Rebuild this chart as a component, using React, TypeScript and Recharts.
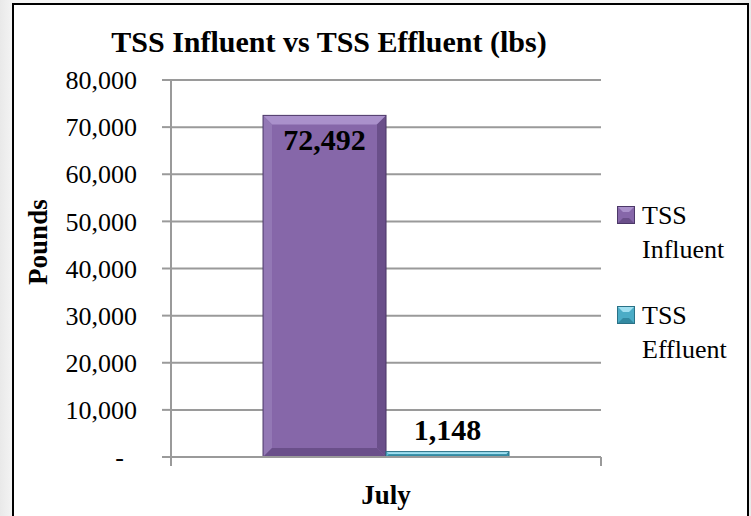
import React from 'react';
import { BarChart, Bar, XAxis, YAxis, CartesianGrid, Legend, LabelList } from 'recharts';

const months = ['July'];
const tssInfluent = [72492];
const tssEffluent = [1148];
const yTicks = [0, 10000, 20000, 30000, 40000, 50000, 60000, 70000, 80000];
const seriesNames = ['TSS Influent', 'TSS Effluent'];

const data = months.map((m, i) => ({
  month: m,
  influent: tssInfluent[i],
  effluent: tssEffluent[i],
}));

const FONT = '"Liberation Serif", "Times New Roman", serif';
const GRID = '#9a9a9a';

type Tone = { main: string; light: string; side: string; dark: string; edge: string };

const PURPLE: Tone = { main: '#8667a9', light: '#aa91cb', side: '#9378b5', dark: '#6a4f8a', edge: '#4c3868' };
const CYAN: Tone = { main: '#4bacc6', light: '#9fdff0', side: '#62bfd7', dark: '#3289a1', edge: '#2a7186' };

const fmt = (v: number) => (v === 0 ? '-\u00a0\u00a0' : v.toLocaleString('en-US'));

// bevelled bar, roughly like the Excel 2007 style
const bevel = (tone: Tone) => (props: any) => {
  const { x, y, width, height } = props;
  if (!height || height <= 0) return <g />;
  const b = Math.min(9, height / 2, width / 2);
  const r = x + width;
  const btm = y + height;
  return (
    <g>
      <rect x={x} y={y} width={width} height={height} fill={tone.main} />
      <polygon points={`${x},${y} ${r},${y} ${r - b},${y + b} ${x + b},${y + b}`} fill={tone.light} />
      <polygon points={`${x},${y} ${x + b},${y + b} ${x + b},${btm - b} ${x},${btm}`} fill={tone.side} />
      <polygon points={`${r},${y} ${r},${btm} ${r - b},${btm - b} ${r - b},${y + b}`} fill={tone.dark} />
      <polygon points={`${x},${btm} ${r},${btm} ${r - b},${btm - b} ${x + b},${btm - b}`} fill={tone.dark} />
      <rect x={x} y={y} width={width} height={height} fill="none" stroke={tone.edge} strokeWidth={1} />
    </g>
  );
};

const Swatch = ({ tone }: { tone: Tone }) => (
  <svg width={18} height={18} style={{ display: 'block' }}>
    <rect x={0} y={0} width={18} height={18} fill={tone.main} />
    <polygon points="0,0 18,0 12,6 6,6" fill={tone.light} />
    <polygon points="0,18 18,18 12,12 6,12" fill={tone.dark} />
    <rect x={0.5} y={0.5} width={17} height={17} fill="none" stroke={tone.edge} />
  </svg>
);

const LegendBox = () => (
  <div style={{ fontFamily: FONT, fontSize: 26, color: '#000' }}>
    {seriesNames.map((name, i) => (
      <div key={name} style={{ position: 'relative', height: 100 }}>
        <div style={{ position: 'absolute', left: 0, top: 7 }}>
          <Swatch tone={i === 0 ? PURPLE : CYAN} />
        </div>
        <div style={{ position: 'absolute', left: 25, top: 0, width: 100, lineHeight: '34px' }}>{name}</div>
      </div>
    ))}
  </div>
);

const YTitle = (props: any) => {
  const vb = props.viewBox;
  const cx = vb.x + 38;
  const cy = vb.y + vb.height * 0.43;
  return (
    <text
      x={cx}
      y={cy}
      transform={`rotate(-90 ${cx} ${cy})`}
      textAnchor="middle"
      dominantBaseline="central"
      fontFamily={FONT}
      fontWeight="bold"
      fontSize={27}
      fill="#000"
    >
      Pounds
    </text>
  );
};

// Excel puts the category tick marks on the band edges
const EdgeTicks = (props: any) => {
  const vb = props.viewBox;
  return (
    <g stroke={GRID} strokeWidth={2}>
      <line x1={vb.x} y1={vb.y} x2={vb.x} y2={vb.y + 9} />
      <line x1={vb.x + vb.width} y1={vb.y} x2={vb.x + vb.width} y2={vb.y + 9} />
    </g>
  );
};

export default function App() {
  return (
    <div
      style={{
        position: 'absolute',
        left: 0,
        top: 0,
        width: 751,
        height: 516,
        overflow: 'hidden',
        background: 'linear-gradient(90deg, #e9e9e9, #f6f6f6 2%, #f6f6f6 98%, #e9e9e9)',
      }}
    >
      <div
        style={{
          position: 'absolute',
          left: 12,
          top: 3,
          width: 733,
          height: 540,
          border: '2px solid #000',
          background: '#fff',
        }}
      />
      <div
        style={{
          position: 'absolute',
          left: 0,
          top: 27,
          width: 658,
          textAlign: 'center',
          fontFamily: FONT,
          fontWeight: 'bold',
          fontSize: 30,
          lineHeight: '30px',
          color: '#000',
          whiteSpace: 'nowrap',
        }}
      >
        TSS Influent vs TSS Effluent (lbs)
      </div>
      <div style={{ position: 'absolute', left: 0, top: 0 }}>
        <BarChart
          width={751}
          height={516}
          data={data}
          margin={{ top: 80, right: 150, bottom: 0, left: 0 }}
          barCategoryGap="21.4%"
          barGap={0}
        >
          <CartesianGrid vertical={false} stroke={GRID} strokeWidth={2} />
          <XAxis
            dataKey="month"
            height={59}
            axisLine={{ stroke: GRID, strokeWidth: 2 }}
            tickLine={false}
            tickSize={0}
            tickMargin={28}
            tick={{ fill: '#000', fontFamily: FONT, fontWeight: 'bold', fontSize: 27 }}
            label={<EdgeTicks />}
          />
          <YAxis
            width={171}
            domain={[0, 80000]}
            ticks={yTicks}
            interval={0}
            tickFormatter={fmt}
            axisLine={{ stroke: GRID, strokeWidth: 2 }}
            tickLine={{ stroke: GRID, strokeWidth: 2 }}
            tickSize={9}
            tickMargin={25}
            tick={{ fill: '#000', fontFamily: FONT, fontSize: 26 }}
            label={<YTitle />}
          />
          <Legend
            layout="horizontal"
            verticalAlign="middle"
            align="center"
            content={() => <LegendBox />}
            wrapperStyle={{ position: 'absolute', left: 617, top: 199, width: 130, height: 200 }}
          />
          <Bar dataKey="influent" name={seriesNames[0]} fill={PURPLE.main} shape={bevel(PURPLE)} isAnimationActive={false}>
            <LabelList
              dataKey="influent"
              position="insideTop"
              offset={13}
              formatter={(v: any) => fmt(Number(v))}
              fill="#000"
              fontFamily={FONT}
              fontWeight="bold"
              fontSize={30}
            />
          </Bar>
          <Bar dataKey="effluent" name={seriesNames[1]} fill={CYAN.main} shape={bevel(CYAN)} isAnimationActive={false}>
            <LabelList
              dataKey="effluent"
              position="top"
              offset={12}
              formatter={(v: any) => fmt(Number(v))}
              fill="#000"
              fontFamily={FONT}
              fontWeight="bold"
              fontSize={30}
            />
          </Bar>
        </BarChart>
      </div>
    </div>
  );
}
